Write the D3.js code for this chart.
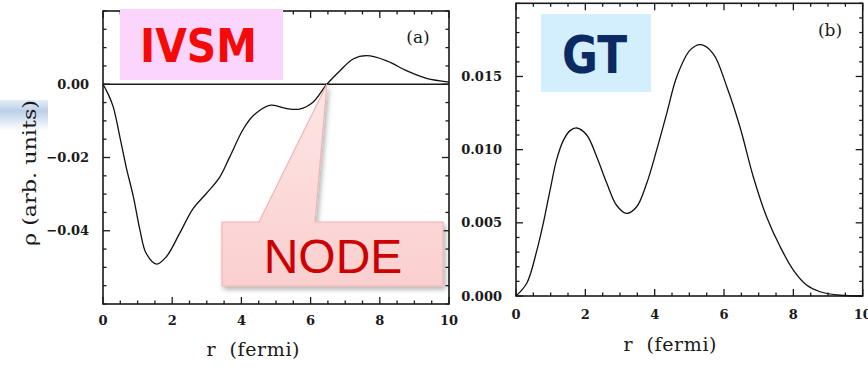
<!DOCTYPE html>
<html>
<head>
<meta charset="utf-8">
<script src="https://cdn.jsdelivr.net/npm/d3@7"></script>
<style>
  html, body { margin: 0; padding: 0; background: #fff; }
  svg { display: block; }
</style>
</head>
<body>
<svg id="chart" width="868" height="370"></svg>
<script>
// Panel (a): isovector spin-monopole transition density
const rIVSM = [0, 0.15, 0.3, 0.49, 0.67, 0.88, 1.07, 1.25, 1.55, 1.83, 2.21, 2.6, 2.98, 3.37, 3.66, 4.04, 4.34, 4.85, 5.29, 5.68, 6.06, 6.47, 6.85, 7.23, 7.62, 8.2, 8.77, 9.35, 10];
const rhoIVSM = [0, -0.0027, -0.0063, -0.0145, -0.0226, -0.0308, -0.0399, -0.0462, -0.0491, -0.0471, -0.0408, -0.0340, -0.0299, -0.0254, -0.0199, -0.0125, -0.0086, -0.0057, -0.0066, -0.0068, -0.0050, 0, 0.0037, 0.0069, 0.0078, 0.0064, 0.0037, 0.0016, 0.0006];

// Panel (b): Gamow-Teller transition density
const rGT = [0, 0.31, 0.6, 0.79, 0.98, 1.17, 1.36, 1.56, 1.75, 2.04, 2.33, 2.62, 2.9, 3.19, 3.48, 3.77, 4.06, 4.35, 4.64, 5.02, 5.33, 5.69, 6.08, 6.46, 6.85, 7.23, 7.62, 8.0, 8.38, 8.77, 9.35, 10];
const rhoGT = [0, 0.00087, 0.0031, 0.0050, 0.0072, 0.0093, 0.0106, 0.0113, 0.01148, 0.0110, 0.0095, 0.0077, 0.0062, 0.00564, 0.0061, 0.0077, 0.0100, 0.0125, 0.0150, 0.0168, 0.01717, 0.01655, 0.0143, 0.01155, 0.0081, 0.0054, 0.00336, 0.00177, 0.00075, 0.00029, 0.00005, 0];

// Tick values
const xMajorTicks = [0, 2, 4, 6, 8, 10];
const yMajorTicksA = [-0.04, -0.02, 0.00];
const yMajorTicksB = [0.000, 0.005, 0.010, 0.015];

// Node position of the IVSM density (where it crosses zero)
const nodeR = 6.47;

const svg = d3.select("#chart");
const defs = svg.append("defs");

const numFont = "'DejaVu Serif', serif";
const ink = "#1a1a1a";

// Decorative blue strip at the left edge
const strip = defs.append("linearGradient").attr("id", "strip")
  .attr("x1", 0).attr("y1", 0).attr("x2", 0).attr("y2", 1);
strip.append("stop").attr("offset", "0%").attr("stop-color", "#e6eef8");
strip.append("stop").attr("offset", "35%").attr("stop-color", "#bccfe8");
strip.append("stop").attr("offset", "100%").attr("stop-color", "#ffffff");
svg.append("rect").attr("x", 0).attr("y", 100).attr("width", 48).attr("height", 31)
  .attr("fill", "url(#strip)");

function drawPanel(cfg) {
  const x = d3.scaleLinear().domain([0, 10]).range([cfg.left, cfg.right]);
  const y = d3.scaleLinear().domain(cfg.yDomain).range([cfg.bottom, cfg.top]);
  const g = svg.append("g");

  const xMinor = d3.range(0, 10.001, 0.5);
  const yMinor = d3.range(cfg.yDomain[0], cfg.yDomain[1] + 1e-9, cfg.yMinorStep);
  const isMajor = (v, list) => list.some(t => Math.abs(t - v) < 1e-9);
  const majX = xMajorTicks;
  const majY = cfg.yMajor;

  // inward ticks on all four sides
  const tk = g.append("g").attr("stroke", ink).attr("stroke-width", 1.3);
  xMinor.forEach(v => {
    const L = isMajor(v, majX) ? 7 : 3.5;
    tk.append("line").attr("x1", x(v)).attr("x2", x(v)).attr("y1", cfg.bottom).attr("y2", cfg.bottom - L);
    tk.append("line").attr("x1", x(v)).attr("x2", x(v)).attr("y1", cfg.top).attr("y2", cfg.top + L);
  });
  yMinor.forEach(v => {
    const L = isMajor(v, majY) ? 7 : 3.5;
    tk.append("line").attr("y1", y(v)).attr("y2", y(v)).attr("x1", cfg.left).attr("x2", cfg.left + L);
    tk.append("line").attr("y1", y(v)).attr("y2", y(v)).attr("x1", cfg.right).attr("x2", cfg.right - L);
  });

  // frame
  g.append("rect").attr("x", cfg.left).attr("y", cfg.top)
    .attr("width", cfg.right - cfg.left).attr("height", cfg.bottom - cfg.top)
    .attr("fill", "none").attr("stroke", ink).attr("stroke-width", 1.6);

  // x tick labels
  g.selectAll("text.xt").data(majX).join("text")
    .attr("x", d => x(d)).attr("y", cfg.xLabelY)
    .attr("text-anchor", "middle").attr("font-family", numFont)
    .attr("font-size", 13).attr("font-weight", "bold").attr("fill", ink)
    .text(d => d3.format("d")(d));

  // y tick labels
  g.selectAll("text.yt").data(majY).join("text")
    .attr("x", cfg.yLabelX).attr("y", d => y(d)).attr("dy", "0.35em")
    .attr("text-anchor", "end").attr("font-family", numFont)
    .attr("font-size", 13).attr("font-weight", "bold").attr("fill", ink)
    .text(d => d3.format(cfg.yFmt)(d));

  // x title
  g.append("text").attr("x", cfg.xTitleX).attr("y", cfg.xTitleY)
    .attr("text-anchor", "middle").attr("font-family", numFont)
    .attr("font-size", 19).attr("fill", ink).attr("xml:space", "preserve")
    .attr("textLength", 93).attr("lengthAdjust", "spacing")
    .text("r  (fermi)");

  // panel tag
  g.append("text").attr("x", cfg.tagX).attr("y", cfg.tagY)
    .attr("text-anchor", "middle").attr("font-family", numFont)
    .attr("font-size", 17).attr("fill", ink).text(cfg.tag);

  return { x, y, g };
}

// ---------- Panel (a)
const A = drawPanel({
  left: 103, right: 449, top: 11, bottom: 304,
  yDomain: [-0.06, 0.02], yMinorStep: 0.005, yMajor: yMajorTicksA, yFmt: ".2f",
  xLabelY: 325, yLabelX: 89, xTitleX: 253, xTitleY: 356,
  tag: "(a)", tagX: 418, tagY: 43
});

// zero line
A.g.append("line").attr("x1", A.x(0)).attr("x2", A.x(10))
  .attr("y1", A.y(0)).attr("y2", A.y(0)).attr("stroke", ink).attr("stroke-width", 1.3);

const lineA = d3.line().x((d, i) => A.x(rIVSM[i])).y(d => A.y(d)).curve(d3.curveCatmullRom.alpha(0.5));
A.g.append("path").attr("d", lineA(rhoIVSM)).attr("fill", "none")
  .attr("stroke", "#111").attr("stroke-width", 1.3);

// y title
svg.append("text").attr("transform", "translate(36,173) rotate(-90)")
  .attr("text-anchor", "middle").attr("font-family", numFont)
  .attr("font-size", 19).attr("fill", ink)
  .attr("textLength", 146).attr("lengthAdjust", "spacingAndGlyphs")
  .text("ρ (arb. units)");

// ---------- Panel (b)
const B = drawPanel({
  left: 516, right: 862.7, top: 3.3, bottom: 296,
  yDomain: [0, 0.02], yMinorStep: 0.001, yMajor: yMajorTicksB, yFmt: ".3f",
  xLabelY: 319, yLabelX: 502, xTitleX: 670, xTitleY: 351,
  tag: "(b)", tagX: 830, tagY: 36
});

const lineB = d3.line().x((d, i) => B.x(rGT[i])).y(d => B.y(d)).curve(d3.curveCatmullRom.alpha(0.5));
B.g.append("path").attr("d", lineB(rhoGT)).attr("fill", "none")
  .attr("stroke", "#111").attr("stroke-width", 1.3);

// ---------- Labels
svg.append("rect").attr("x", 120).attr("y", 9).attr("width", 163).attr("height", 71).attr("fill", "#fbd5fb");
svg.append("text").attr("x", 140).attr("y", 62)
  .attr("font-family", "'DejaVu Sans', sans-serif").attr("font-weight", "bold")
  .attr("font-size", 46).attr("fill", "#f50a0a")
  .attr("textLength", 117).attr("lengthAdjust", "spacingAndGlyphs").text("IVSM");

svg.append("rect").attr("x", 541).attr("y", 14).attr("width", 110).attr("height", 78).attr("fill", "#d3eefc");
svg.append("text").attr("x", 562).attr("y", 73)
  .attr("font-family", "'DejaVu Sans', sans-serif").attr("font-weight", "bold")
  .attr("font-size", 52).attr("fill", "#0b2a63")
  .attr("textLength", 65).attr("lengthAdjust", "spacingAndGlyphs").text("GT");

// NODE callout
const boxG = defs.append("linearGradient").attr("id", "boxFill")
  .attr("x1", 0).attr("y1", 0).attr("x2", 0).attr("y2", 1);
boxG.append("stop").attr("offset", "0%").attr("stop-color", "#fde6e6");
boxG.append("stop").attr("offset", "100%").attr("stop-color", "#fbcfcf");
const shadow = defs.append("filter").attr("id", "shadow")
  .attr("x", "-10%").attr("y", "-10%").attr("width", "130%").attr("height", "130%");
shadow.append("feDropShadow").attr("dx", 2).attr("dy", 3).attr("stdDeviation", 2.5)
  .attr("flood-color", "#000").attr("flood-opacity", 0.3);

const tipX = A.x(nodeR), tipY = A.y(0);
const bx0 = 222, bx1 = 443, by0 = 222, by1 = 286;
const callout = svg.append("g").attr("filter", "url(#shadow)");
callout.append("path")
  .attr("d", `M${bx0},${by0} L259,${by0} L${tipX},${tipY} L315,${by0} L${bx1},${by0} L${bx1},${by1} L${bx0},${by1} Z`)
  .attr("fill", "url(#boxFill)").attr("stroke", "#f0b4b4").attr("stroke-width", 1.2);
svg.append("text").attr("x", 333).attr("y", 273).attr("text-anchor", "middle")
  .attr("font-family", "'Liberation Sans', Arial, sans-serif")
  .attr("font-size", 48).attr("fill", "#cc0000").text("NODE");
</script>
</body>
</html>
